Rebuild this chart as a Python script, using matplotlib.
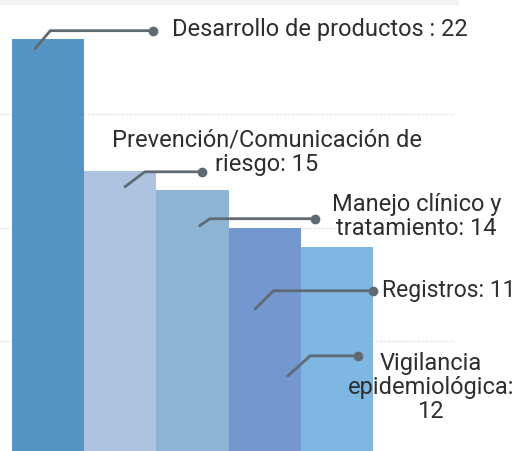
import matplotlib
matplotlib.use('Agg')
import matplotlib.pyplot as plt

# data (bars left to right)
categories = ['Desarrollo de productos', 'Prevención/Comunicación de riesgo',
              'Manejo clínico y tratamiento', 'Vigilancia epidemiológica', 'Registros']
values = [22, 15, 14, 12, 11]
labels = ['Desarrollo de productos : 22', 'Prevención/Comunicación de\nriesgo: 15',
          'Manejo clínico y\ntratamiento: 14', 'Vigilancia\nepidemiológica:\n12',
          'Registros: 11']
colors = ['#5495c4', '#adc3e0', '#8eb4d3', '#7597cf', '#7fb7e3']

# leader lines: start, elbow, dot (data units) and text anchor
lead_start = [(-0.18, 21.48), (1.065, 14.18), (2.10, 12.12), (3.32, 4.18), (2.87, 7.72)]
lead_elbow = [(0.03, 22.43), (1.34, 14.97), (2.24, 12.49), (3.63, 5.24), (3.12, 8.68)]
lead_dot = [(1.45, 22.43), (2.13, 14.97), (3.70, 12.49), (4.29, 5.24), (4.50, 8.68)]
text_pos = [(1.72, 22.55), (3.03, 16.05), (5.10, 12.65), (5.30, 3.6), (4.62, 8.75)]
text_ha = ['left', 'center', 'center', 'center', 'left']
text_size = [17, 17, 17, 17, 16.5]

fig = plt.figure(figsize=(5.17, 4.52), dpi=100)
ax = fig.add_axes([0, -0.0088, 455 / 517, 1.0044])

x = list(range(len(values)))
ax.bar(x, values, width=1.0, color=colors, zorder=2)

for gy in [6, 12, 18]:
    ax.axhline(gy, color='#e8e8e8', lw=1, ls=(0, (2, 1)), zorder=1)
ax.axhline(24, color='#f2f2f2', lw=6, zorder=1, clip_on=False)

for i in range(len(values)):
    xs = [lead_start[i][0], lead_elbow[i][0], lead_dot[i][0]]
    ys = [lead_start[i][1], lead_elbow[i][1], lead_dot[i][1]]
    ax.plot(xs, ys, color='#5f6a72', lw=2, zorder=3, solid_capstyle='round')
    ax.plot(xs[-1], ys[-1], 'o', color='#5f6a72', ms=6, zorder=3)
    ax.text(text_pos[i][0], text_pos[i][1], labels[i], ha=text_ha[i], va='center',
            fontsize=text_size[i], family=['Roboto', 'DejaVu Sans'], color='#2e2e2e',
            linespacing=1.05, zorder=4)

ax.set_xlim(-0.666, 5.636)
ax.set_ylim(0, 24)
ax.axis('off')

fig.savefig('out.png', dpi=100)
